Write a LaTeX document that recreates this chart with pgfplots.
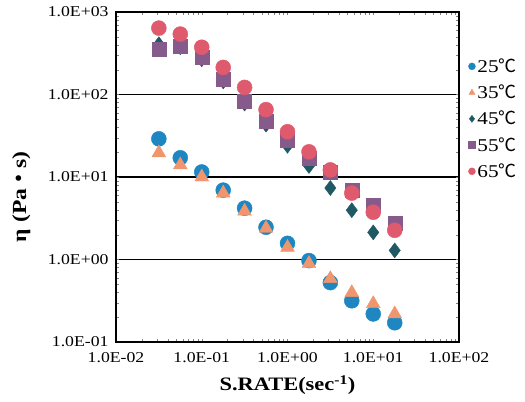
\documentclass[border=0pt]{standalone}
\usepackage{fontspec}
\setmainfont{Liberation Serif}[FakeStretch=1.18]
\newfontfamily\cjk{Noto Sans CJK JP}
\usepackage{pgfplots}
\pgfplotsset{compat=1.18}
\newcommand{\degC}{{\cjk ℃}}
\definecolor{c25}{HTML}{1E86C0}
\definecolor{c35}{HTML}{F0966E}
\definecolor{c45}{HTML}{1F5A64}
\definecolor{c55}{HTML}{875A8C}
\definecolor{c65}{HTML}{E05A6E}
\begin{document}
\begin{tikzpicture}
\begin{axis}[
    name=ax,
    width=343pt, height=330pt, scale only axis,
    xmode=log, ymode=log,
    xmin=0.01, xmax=100, ymin=0.1, ymax=1000,
    xtick={0.01,0.1,1,10,100},
    xticklabels={1.0E-02,1.0E-01,1.0E+00,1.0E+01,1.0E+02},
    ytick={0.1,1,10,100,1000},
    yticklabels={1.0E-01,1.0E+00,1.0E+01,1.0E+02,1.0E+03},
    minor xtick={}, minor ytick={},
    major tick length=0pt,
    ymajorgrids,
    grid style={black, line width=1.6pt},
    axis line style={black, line width=1.5pt},
    ticklabel style={font=\fontsize{15}{15}\selectfont},
    xticklabel style={yshift=-7pt},
    yticklabel style={xshift=-4pt},
    xlabel={\textbf{S.RATE(sec\textsuperscript{-1})}},
    ylabel={\textbf{η (Pa{\cjk ・}s)}},
    xlabel style={font=\fontsize{19}{19}\selectfont,
        at={(axis description cs:0.5,-0.09)}, anchor=north},
    ylabel style={font=\fontsize{20}{20}\selectfont,
        at={(axis description cs:-0.276,0.44)}, anchor=center},
    legend style={at={(1.027,0.865)}, anchor=north west, draw=none,
        fill=none, font=\fontsize{18}{18}\selectfont,
        row sep=7pt, inner sep=0pt},
    legend cell align=left,
    legend image post style={mark size=3.5pt},
    only marks,
]
\addplot[mark=*, mark size=7.5pt, color=c25] coordinates {
 (0.0316,29.0)(0.0562,17.1)(0.1,11.5)(0.178,6.93)(0.316,4.19)(0.562,2.46)
 (1,1.57)(1.78,0.97)(3.16,0.525)(5.62,0.316)(10,0.219)(17.8,0.171)};
\addlegendentry{25\degC}
\addplot[mark=triangle*, mark size=8pt, color=c35] coordinates {
 (0.0316,19.6)(0.0562,14.0)(0.1,10.0)(0.178,6.38)(0.316,3.85)(0.562,2.39)
 (1,1.40)(1.78,0.894)(3.16,0.586)(5.62,0.396)(10,0.291)(17.8,0.219)};
\addlegendentry{35\degC}
\addplot[mark=diamond*, mark size=7.5pt, color=c45] coordinates {
 (0.0316,407)(0.0562,374)(0.1,267)(0.178,144)(0.316,77.6)(0.562,43.1)
 (1,23.9)(1.78,13.6)(3.16,7.35)(5.62,3.96)(10,2.13)(17.8,1.29)};
\addlegendentry{45\degC}
\addplot[mark=square*, mark size=7pt, color=c55] coordinates {
 (0.0316,354)(0.0562,385)(0.1,282)(0.178,152)(0.316,82.2)(0.562,46.9)
 (1,28.2)(1.78,17.1)(3.16,11.5)(5.62,6.93)(10,4.56)(17.8,2.75)};
\addlegendentry{55\degC}
\addplot[mark=*, mark size=7.5pt, color=c65] coordinates {
 (0.0316,638)(0.0562,540)(0.1,374)(0.178,213)(0.316,122)(0.562,65.6)
 (1,35.4)(1.78,20.2)(3.16,12.2)(5.62,6.38)(10,3.74)(17.8,2.26)};
\addlegendentry{65\degC}
\end{axis}
\path ([xshift=-116pt,yshift=-59pt]ax.south west)
      ([xshift=66pt,yshift=12pt]ax.north east);
\end{tikzpicture}
\end{document}
